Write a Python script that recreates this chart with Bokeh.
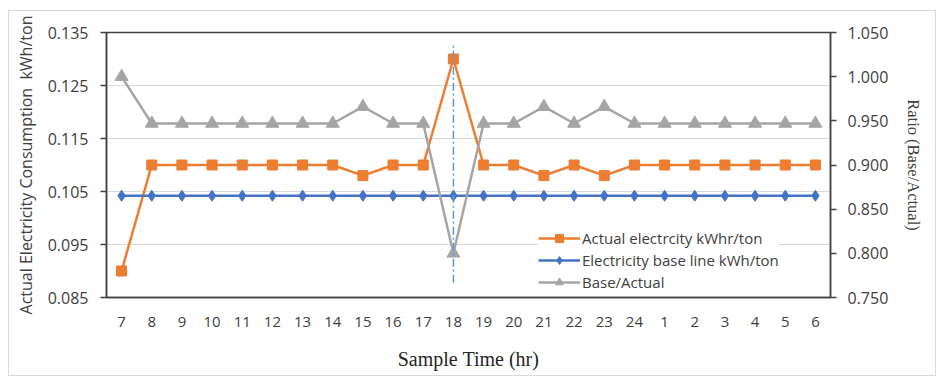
from bokeh.plotting import figure
from bokeh.models import Range1d, LinearAxis, FixedTicker, NumeralTickFormatter, Legend, LegendItem
from bokeh.embed import file_html
from bokeh.resources import INLINE

hours = ["7", "8", "9", "10", "11", "12", "13", "14", "15", "16", "17", "18",
         "19", "20", "21", "22", "23", "24", "1", "2", "3", "4", "5", "6"]
actual = [0.090, 0.110, 0.110, 0.110, 0.110, 0.110, 0.110, 0.110, 0.108, 0.110, 0.110, 0.130,
          0.110, 0.110, 0.108, 0.110, 0.108, 0.110, 0.110, 0.110, 0.110, 0.110, 0.110, 0.110]
baseline = [0.1042] * 24
ratio = [1.000, 0.947, 0.947, 0.947, 0.947, 0.947, 0.947, 0.947, 0.966, 0.947, 0.947, 0.800,
         0.947, 0.947, 0.966, 0.947, 0.966, 0.947, 0.947, 0.947, 0.947, 0.947, 0.947, 0.947]
left_ticks = [0.085, 0.095, 0.105, 0.115, 0.125, 0.135]
right_ticks = [0.75, 0.80, 0.85, 0.90, 0.95, 1.00, 1.05]
marker_hour = "18"
marker_span = (0.0878, 0.1329)

FONT = "Open Sans"
SERIF = "Liberation Serif"
ORANGE = "#ED7D31"
BLUE = "#4472C4"
GRAY = "#A5A5A5"
AXIS = "#404040"
NB = "\u00a0"

p = figure(width=928, height=366, x_range=hours, y_range=Range1d(0.085, 0.135),
           output_backend="svg", toolbar_location=None,
           min_border_left=97, min_border_right=107, min_border_top=21, min_border_bottom=80)
p.styles = {"margin-left": "8px", "margin-top": "10px", "border": "1px solid #d9d9d9"}
p.extra_y_ranges = {"ratio": Range1d(0.75, 1.05)}

p.outline_line_color = AXIS
p.outline_line_width = 1.5
p.xgrid.grid_line_color = None
p.ygrid.ticker = FixedTicker(ticks=left_ticks)
p.ygrid.grid_line_color = "#d9d9d9"
p.ygrid.grid_line_width = 1

# left axis
ya = p.yaxis[0]
ya.ticker = FixedTicker(ticks=left_ticks)
ya.formatter = NumeralTickFormatter(format="0.000")
ya.axis_label = "Actual Electricity Consumption" + NB + " kWh/ton"
ya.axis_label_text_font = FONT
ya.axis_label_text_font_size = "16px"
ya.axis_label_text_font_style = "normal"
ya.axis_label_text_color = "#404040"
ya.axis_label_standoff = 8
ya.major_label_text_font = FONT
ya.major_label_text_font_size = "16px"
ya.major_label_text_color = "#404040"
ya.major_label_standoff = 12
ya.major_tick_in = 0
ya.major_tick_out = 6
ya.minor_tick_line_color = None
ya.axis_line_color = AXIS
ya.axis_line_width = 1.5
ya.major_tick_line_color = AXIS
ya.major_tick_line_width = 1.5

# right axis
ra = LinearAxis(y_range_name="ratio")
ra.ticker = FixedTicker(ticks=right_ticks)
ra.formatter = NumeralTickFormatter(format="0.000")
ra.axis_label = "Ratio (Base/Actual)"
ra.axis_label_text_font = SERIF
ra.axis_label_text_font_size = "16.5px"
ra.axis_label_text_font_style = "normal"
ra.axis_label_text_color = "#404040"
ra.axis_label_standoff = 13
ra.major_label_text_font = FONT
ra.major_label_text_font_size = "16px"
ra.major_label_text_color = "#404040"
ra.major_label_standoff = 11
ra.major_tick_in = 0
ra.major_tick_out = 6
ra.minor_tick_line_color = None
ra.axis_line_color = AXIS
ra.axis_line_width = 1.5
ra.major_tick_line_color = AXIS
ra.major_tick_line_width = 1.5
p.add_layout(ra, "right")

# x axis
xa = p.xaxis[0]
xa.axis_label = "Sample Time (hr)"
xa.axis_label_text_font = SERIF
xa.axis_label_text_font_size = "20px"
xa.axis_label_text_font_style = "normal"
xa.axis_label_text_color = "#262626"
xa.axis_label_standoff = 18
xa.major_label_text_font = FONT
xa.major_label_text_font_size = "15px"
xa.major_label_text_color = "#404040"
xa.major_label_standoff = 13
xa.major_tick_line_color = None
xa.axis_line_color = AXIS
xa.axis_line_width = 1.5

r1l = p.line(hours, actual, line_color=ORANGE, line_width=2.5)
r1m = p.scatter(hours, actual, marker="square", size=10, fill_color=ORANGE, line_color=ORANGE)
r2l = p.line(hours, baseline, line_color=BLUE, line_width=2.5)
r2m = p.scatter(hours, baseline, marker="diamond", size=11, fill_color=BLUE, line_color=BLUE)
r3l = p.line(hours, ratio, line_color=GRAY, line_width=2.5, y_range_name="ratio")
r3m = p.scatter(hours, ratio, marker="triangle", size=13, fill_color=GRAY, line_color=GRAY,
                y_range_name="ratio")

p.segment(x0=[marker_hour], y0=[marker_span[0]], x1=[marker_hour], y1=[marker_span[1]],
          line_color="#5B9BD5", line_width=1.5, line_dash="8 3 2 3")

legend = Legend(items=[
    LegendItem(label="Actual electrcity kWhr/ton", renderers=[r1l, r1m]),
    LegendItem(label="Electricity base line kWh/ton", renderers=[r2l, r2m]),
    LegendItem(label="Base/Actual", renderers=[r3l, r3m]),
], location=(432, 5))
legend.label_text_font = FONT
legend.label_text_font_size = "15px"
legend.label_text_color = "#404040"
legend.glyph_width = 42
legend.glyph_height = 20
legend.label_height = 20
legend.spacing = 2
legend.padding = 4
legend.margin = 0
legend.label_standoff = 2
legend.border_line_color = None
legend.background_fill_alpha = 1
p.add_layout(legend, "center")

open("out.html", "w").write(file_html(p, INLINE))
